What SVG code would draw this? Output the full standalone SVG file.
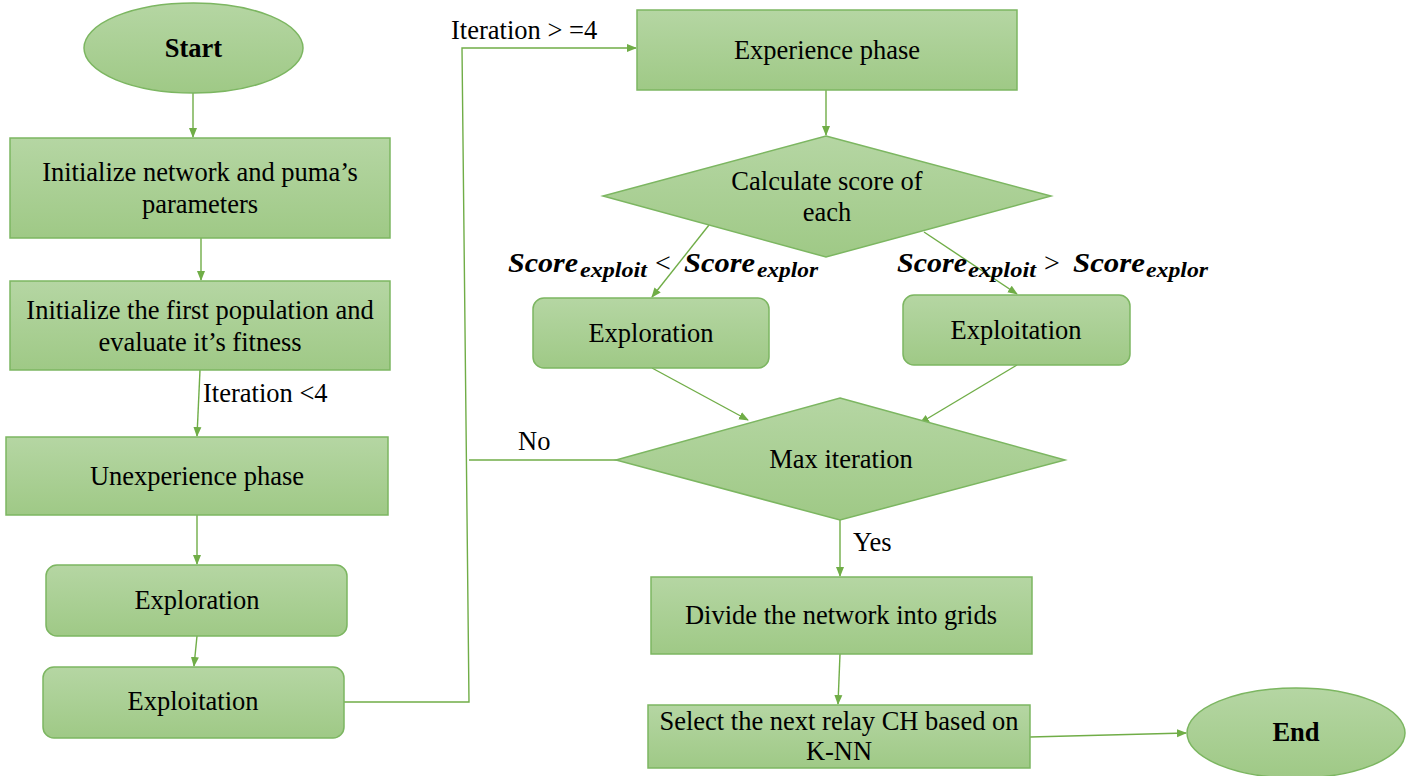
<svg xmlns="http://www.w3.org/2000/svg" width="1410" height="776" viewBox="0 0 1410 776">
<defs>
<linearGradient id="g" x1="0" y1="0" x2="0" y2="1">
<stop offset="0" stop-color="#b5d6a3"/>
<stop offset="1" stop-color="#9fc986"/>
</linearGradient>
<marker id="ah" markerWidth="10" markerHeight="10" refX="9" refY="5" orient="auto" markerUnits="userSpaceOnUse">
<path d="M0,1 L10,5 L0,9 Z" fill="#70ad47"/>
</marker>
<style>
.n{fill:url(#g);stroke:#7cb661;stroke-width:1.5}
.t{font-size:26.5px;fill:#000;text-anchor:middle}
.b{font-weight:bold}
.l{font-size:26.5px;fill:#000}
.m{font-weight:bold;font-style:italic;fill:#000}
.c{fill:none;stroke:#70ad47;stroke-width:1.4}
</style>
</defs>
<rect width="1410" height="776" fill="#fff"/>

<g id="connectors">
<path class="c" d="M193,93 L193,137" marker-end="url(#ah)"/>
<path class="c" d="M201,238 L201,280" marker-end="url(#ah)"/>
<path class="c" d="M200,370 L197,436" marker-end="url(#ah)"/>
<path class="c" d="M197,515 L197,564" marker-end="url(#ah)"/>
<path class="c" d="M197,636 L194,666" marker-end="url(#ah)"/>
<path class="c" d="M344,702 L469,702 L462,48 L636,48" marker-end="url(#ah)"/>
<path class="c" d="M826,90 L826,135" marker-end="url(#ah)"/>
<path class="c" d="M709,225 L652,297" marker-end="url(#ah)"/>
<path class="c" d="M924,232 L1017,294" marker-end="url(#ah)"/>
<path class="c" d="M652,368 L748,420" marker-end="url(#ah)"/>
<path class="c" d="M1017,365 L920,423" marker-end="url(#ah)"/>
<path class="c" d="M617,460 L469,460"/>
<path class="c" d="M840,520 L840,576" marker-end="url(#ah)"/>
<path class="c" d="M840,654 L838,704" marker-end="url(#ah)"/>
<path class="c" d="M1030,737 L1186,733" marker-end="url(#ah)"/>
</g>

<g id="labels">
<text class="l" font-family="Liberation Serif" x="203" y="402">Iteration &lt;4</text>
<text class="l" font-family="Liberation Serif" x="451" y="39">Iteration &gt; =4</text>
<text class="l" font-family="Liberation Serif" x="518" y="450">No</text>
<text class="l" font-family="Liberation Serif" x="853" y="551">Yes</text>
<text class="m" font-family="Liberation Serif" y="272"><tspan x="508" font-size="28" textLength="70" lengthAdjust="spacingAndGlyphs">Score</tspan><tspan x="580" y="277" font-size="21" textLength="67" lengthAdjust="spacingAndGlyphs">exploit</tspan><tspan x="655" y="272" font-size="28" font-weight="normal" font-style="normal">&lt;</tspan><tspan x="684" y="272" font-size="28" textLength="71" lengthAdjust="spacingAndGlyphs">Score</tspan><tspan x="757" y="277" font-size="21" textLength="61" lengthAdjust="spacingAndGlyphs">explor</tspan></text>
<text class="m" font-family="Liberation Serif" y="272"><tspan x="897" font-size="28" textLength="70" lengthAdjust="spacingAndGlyphs">Score</tspan><tspan x="968" y="277" font-size="21" textLength="68" lengthAdjust="spacingAndGlyphs">exploit</tspan><tspan x="1044" y="272" font-size="28" font-weight="normal" font-style="normal">&gt;</tspan><tspan x="1073" y="272" font-size="28" textLength="72" lengthAdjust="spacingAndGlyphs">Score</tspan><tspan x="1146" y="277" font-size="21" textLength="62" lengthAdjust="spacingAndGlyphs">explor</tspan></text>
</g>

<g id="start"><ellipse class="n" cx="193.5" cy="48" rx="109.5" ry="45"/><text class="t b" font-family="Liberation Serif" x="193.5" y="57">Start</text></g>
<g id="init-network"><rect class="n" x="10" y="138" width="380" height="100"/><text class="t" font-family="Liberation Serif" x="200" y="181">Initialize network and puma’s</text><text class="t" font-family="Liberation Serif" x="200" y="213">parameters</text></g>
<g id="init-population"><rect class="n" x="10" y="281" width="380" height="89"/><text class="t" font-family="Liberation Serif" x="200" y="319">Initialize the first population and</text><text class="t" font-family="Liberation Serif" x="200" y="351">evaluate it’s fitness</text></g>
<g id="unexperience"><rect class="n" x="6" y="437" width="382" height="78"/><text class="t" font-family="Liberation Serif" x="197" y="485">Unexperience phase</text></g>
<g id="exploration-left"><rect class="n" x="46" y="565" width="301" height="71" rx="11"/><text class="t" font-family="Liberation Serif" x="197" y="609">Exploration</text></g>
<g id="exploitation-left"><rect class="n" x="43" y="667" width="301" height="71" rx="11"/><text class="t" font-family="Liberation Serif" x="193" y="710">Exploitation</text></g>
<g id="experience"><rect class="n" x="637" y="10" width="380" height="80"/><text class="t" font-family="Liberation Serif" x="827" y="59">Experience phase</text></g>
<g id="calc-score"><polygon class="n" points="826,136 1051,196 826,257 603,196"/><text class="t" font-family="Liberation Serif" x="827" y="190">Calculate score of</text><text class="t" font-family="Liberation Serif" x="827" y="221">each</text></g>
<g id="exploration-right"><rect class="n" x="533" y="298" width="236" height="70" rx="11"/><text class="t" font-family="Liberation Serif" x="651" y="342">Exploration</text></g>
<g id="exploitation-right"><rect class="n" x="903" y="295" width="227" height="70" rx="11"/><text class="t" font-family="Liberation Serif" x="1016" y="339">Exploitation</text></g>
<g id="max-iteration"><polygon class="n" points="840,398 1065,460 840,520 616,460"/><text class="t" font-family="Liberation Serif" x="841" y="468">Max iteration</text></g>
<g id="divide"><rect class="n" x="651" y="577" width="381" height="77"/><text class="t" font-family="Liberation Serif" x="841" y="624">Divide the network into grids</text></g>
<g id="select"><rect class="n" x="648" y="705" width="382" height="63"/><text class="t" font-family="Liberation Serif" x="839" y="730">Select the next relay CH based on</text><text class="t" font-family="Liberation Serif" x="839" y="760">K-NN</text></g>
<g id="end"><ellipse class="n" cx="1296" cy="733" rx="109" ry="45"/><text class="t b" font-family="Liberation Serif" x="1296" y="741">End</text></g>
</svg>
